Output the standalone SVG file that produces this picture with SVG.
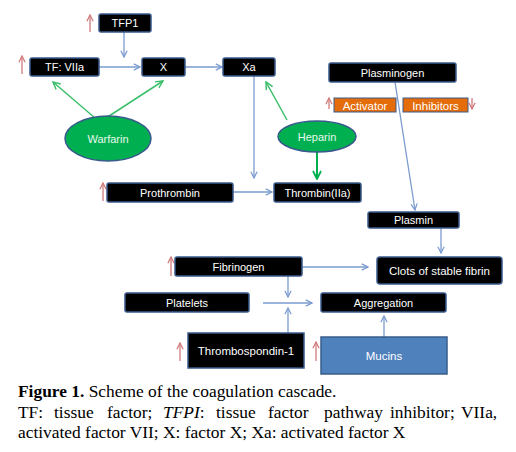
<svg xmlns="http://www.w3.org/2000/svg" width="516" height="452" viewBox="0 0 516 452">
<defs>
<style>
.box{fill:#000;stroke:#3a5a8c;stroke-width:1.5}
.bt{fill:#fff;font-family:"Liberation Sans",Arial,sans-serif;font-size:11px;text-anchor:middle}
.ell{fill:#00b050;stroke:#3a5a8c;stroke-width:1.5}
.et{fill:#e8f8ee;font-family:"Liberation Sans",Arial,sans-serif;font-size:11px;text-anchor:middle}
.org{fill:#e46c0a;stroke:#3a5a8c;stroke-width:1}
.ot{fill:#fff;font-family:"Liberation Sans",Arial,sans-serif;font-size:11.5px;text-anchor:middle}
.c{fill:none;stroke:#7a9bd0;stroke-width:1.3}
.g{fill:none;stroke:#3cbf6a;stroke-width:1.5}
.g2{fill:none;stroke:#00b050;stroke-width:2}
.r{fill:none;stroke:#d07a7a;stroke-width:1.3}
.cap{font-family:"Liberation Serif","Times New Roman",serif;font-size:17.4px;fill:#000}
</style>
<marker id="ab" viewBox="0 0 10 10" refX="9" refY="5" markerWidth="6" markerHeight="6" orient="auto"><path d="M1,1 L9,5 L1,9" fill="none" stroke="#7a9bd0" stroke-width="1.6"/></marker>
<marker id="ag" viewBox="0 0 10 10" refX="9" refY="5" markerWidth="6" markerHeight="6" orient="auto"><path d="M1,1 L9,5 L1,9" fill="none" stroke="#3cbf6a" stroke-width="1.6"/></marker>
<marker id="ag2" viewBox="0 0 10 10" refX="9" refY="5" markerWidth="5" markerHeight="5" orient="auto"><path d="M1,1 L9,5 L1,9" fill="none" stroke="#00b050" stroke-width="1.8"/></marker>
<marker id="ar" viewBox="0 0 10 10" refX="9" refY="5" markerWidth="6" markerHeight="6" orient="auto"><path d="M1,1 L9,5 L1,9" fill="none" stroke="#d07a7a" stroke-width="1.6"/></marker>
</defs>
<rect width="516" height="452" fill="#fff"/>

<g id="connectors">
<line class="c" x1="124" y1="32" x2="124" y2="57" marker-end="url(#ab)"/>
<line class="c" x1="99" y1="67" x2="140" y2="67" marker-end="url(#ab)"/>
<line class="c" x1="185" y1="67" x2="222" y2="67" marker-end="url(#ab)"/>
<line class="g" x1="95" y1="118" x2="53" y2="82" marker-end="url(#ag)"/>
<line class="g" x1="106" y1="118" x2="163" y2="81" marker-end="url(#ag)"/>
<line class="g" x1="287" y1="120" x2="266" y2="82" marker-end="url(#ag)"/>
<line class="g2" x1="317" y1="152" x2="317" y2="179" marker-end="url(#ag2)"/>
<line class="c" x1="254" y1="76" x2="254" y2="178" marker-end="url(#ab)"/>
<line class="c" x1="233" y1="192" x2="272" y2="192" marker-end="url(#ab)"/>
<line class="c" x1="395" y1="82" x2="415" y2="210" marker-end="url(#ab)"/>
<line class="c" x1="441" y1="228" x2="441" y2="253" marker-end="url(#ab)"/>
<line class="c" x1="302" y1="267" x2="368" y2="267" marker-end="url(#ab)"/>
<line class="c" x1="288" y1="276" x2="288" y2="297" marker-end="url(#ab)"/>
<line class="c" x1="263" y1="303" x2="312" y2="303" marker-end="url(#ab)"/>
<line class="c" x1="288" y1="333" x2="288" y2="308" marker-end="url(#ab)"/>
<line class="c" x1="384" y1="337" x2="384" y2="316" marker-end="url(#ab)"/>
</g>

<g id="red-arrows">
<line class="r" x1="90" y1="32" x2="90" y2="15" marker-end="url(#ar)"/>
<line class="r" x1="22" y1="74" x2="22" y2="56" marker-end="url(#ar)"/>
<line class="r" x1="103" y1="201" x2="103" y2="183" marker-end="url(#ar)"/>
<line class="r" x1="329" y1="109" x2="329" y2="98" marker-end="url(#ar)"/>
<line class="r" x1="472" y1="98" x2="472" y2="109" marker-end="url(#ar)"/>
<line class="r" x1="171" y1="276" x2="171" y2="257" marker-end="url(#ar)"/>
<line class="r" x1="180" y1="361" x2="180" y2="343" marker-end="url(#ar)"/>
<line class="r" x1="316" y1="361" x2="316" y2="342" marker-end="url(#ar)"/>
</g>

<g id="tfp1"><rect class="box" x="99" y="14" width="52" height="18" rx="2"/><text class="bt" x="125" y="27">TFP1</text></g>
<g id="tf-viia"><rect class="box" x="30" y="58" width="69" height="18" rx="2"/><text class="bt" x="64.5" y="71">TF: VIIa</text></g>
<g id="x"><rect class="box" x="142" y="58" width="43" height="18" rx="2"/><text class="bt" x="163.5" y="71">X</text></g>
<g id="xa"><rect class="box" x="223" y="58" width="52" height="18" rx="2"/><text class="bt" x="249" y="71">Xa</text></g>
<g id="warfarin"><ellipse class="ell" cx="108" cy="138.5" rx="43" ry="22.5"/><text class="et" x="108" y="142.5">Warfarin</text></g>
<g id="heparin"><ellipse class="ell" cx="317" cy="136.5" rx="39" ry="15.5"/><text class="et" x="317" y="140.5">Heparin</text></g>
<g id="plasminogen"><rect class="box" x="329" y="63" width="127" height="19" rx="2"/><text class="bt" x="392.5" y="76.5">Plasminogen</text></g>
<g id="activator"><rect class="org" x="334" y="98" width="62" height="14"/><text class="ot" x="365" y="109.5">Activator</text></g>
<g id="inhibitors"><rect class="org" x="403" y="98" width="65" height="14"/><text class="ot" x="435.5" y="109.5">Inhibitors</text></g>
<g id="prothrombin"><rect class="box" x="107" y="183" width="126" height="19" rx="2"/><text class="bt" x="170" y="196.5">Prothrombin</text></g>
<g id="thrombin"><rect class="box" x="274" y="183" width="87" height="19" rx="2"/><text class="bt" x="317.5" y="196.5">Thrombin(IIa)</text></g>
<g id="plasmin"><rect class="box" x="368" y="212" width="91" height="16" rx="2"/><text class="bt" x="413.5" y="224">Plasmin</text></g>
<g id="clots"><rect class="box" x="377" y="257" width="125" height="27" rx="3"/><text class="bt" x="439.5" y="274.5" style="font-size:11.5px">Clots of stable fibrin</text></g>
<g id="fibrinogen"><rect class="box" x="175" y="257" width="127" height="19" rx="2"/><text class="bt" x="238.5" y="270.5">Fibrinogen</text></g>
<g id="platelets"><rect class="box" x="125" y="293" width="124" height="19" rx="2"/><text class="bt" x="187" y="306.5">Platelets</text></g>
<g id="aggregation"><rect class="box" x="321" y="293" width="125" height="19" rx="2"/><text class="bt" x="383.5" y="306.5">Aggregation</text></g>
<g id="thrombospondin"><rect class="box" x="188" y="333" width="116" height="35"/><text class="bt" x="246" y="354.5" style="font-size:11.5px">Thrombospondin-1</text></g>
<g id="mucins"><rect x="321" y="337" width="126" height="37" fill="#4f81bd" stroke="#385d8a" stroke-width="1.5"/><text class="bt" x="384" y="359.5" style="font-size:11.5px">Mucins</text></g>

<g id="caption" class="cap">
<text x="18" y="397"><tspan font-weight="bold">Figure 1.</tspan> Scheme of the coagulation cascade.</text>
<text y="417.5"><tspan x="18">TF:</tspan><tspan x="54">tissue</tspan><tspan x="107">factor;</tspan><tspan x="163" font-style="italic">TFPI</tspan><tspan>:</tspan><tspan x="216">tissue</tspan><tspan x="268">factor</tspan><tspan x="324">pathway</tspan><tspan x="390">inhibitor;</tspan><tspan x="461">VIIa,</tspan></text>
<text x="18" y="437.5">activated factor VII; X: factor X; Xa: activated factor X</text>
</g>
</svg>
